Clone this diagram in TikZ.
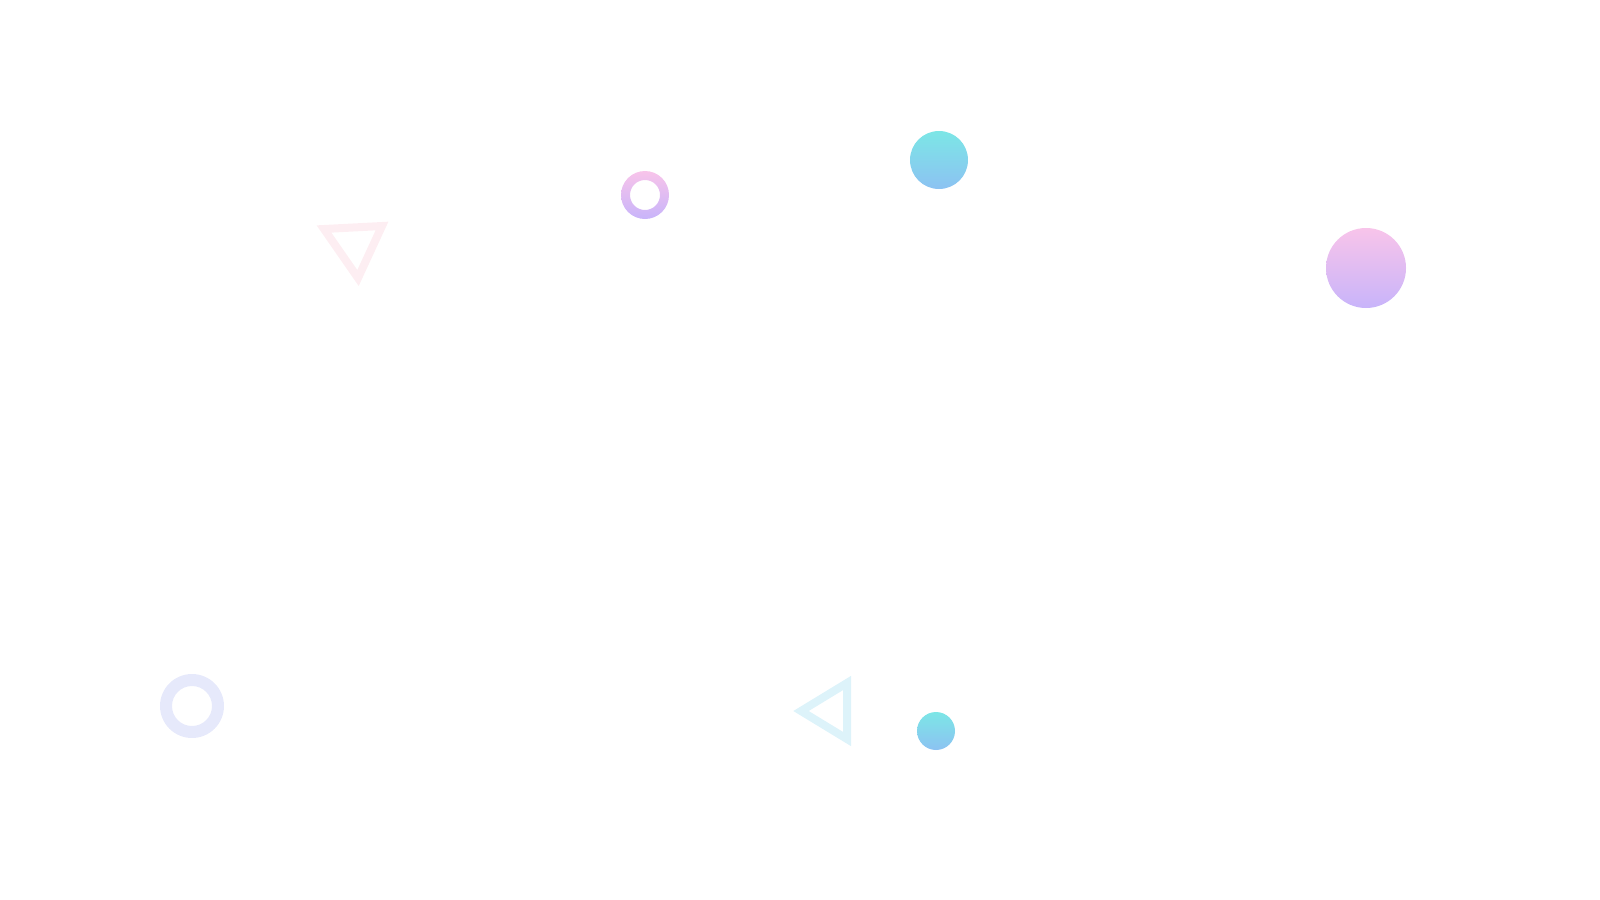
\documentclass[tikz,border=0pt]{standalone}
\begin{document}
\begin{tikzpicture}[x=0.01cm,y=-0.01cm]
\definecolor{pinkA}{HTML}{F8C4EA}
\definecolor{purpB}{HTML}{C8B4FA}
\definecolor{cyanA}{HTML}{7CE6E6}
\definecolor{blueB}{HTML}{8CC2F2}
\definecolor{triPink}{HTML}{FDEEF2}
\definecolor{triCyan}{HTML}{DDF3FA}
\definecolor{ringLav}{HTML}{E6E9FB}
\tikzset{outl/.style={line width=0.08cm,line join=miter}}
\useasboundingbox (0,0) rectangle (1600,900);
% pink triangle
\draw[outl,triPink] (324,229) -- (382,226) -- (358,278) -- cycle;
% small gradient ring
\shade[top color=pinkA,bottom color=purpB,even odd rule] (645,195) circle (24) (645,195) circle (15);
% teal circle
\shade[top color=cyanA,bottom color=blueB] (939,160) circle (29);
% big pink circle
\shade[top color=pinkA,bottom color=purpB] (1366,268) circle (40);
% lavender ring
\fill[ringLav,even odd rule] (192,706) circle (32) (192,706) circle (20);
% cyan triangle
\draw[outl,triCyan] (801,711) -- (847,683) -- (847,739) -- cycle;
% small teal circle
\shade[top color=cyanA,bottom color=blueB] (936,731) circle (19);
\end{tikzpicture}
\end{document}
